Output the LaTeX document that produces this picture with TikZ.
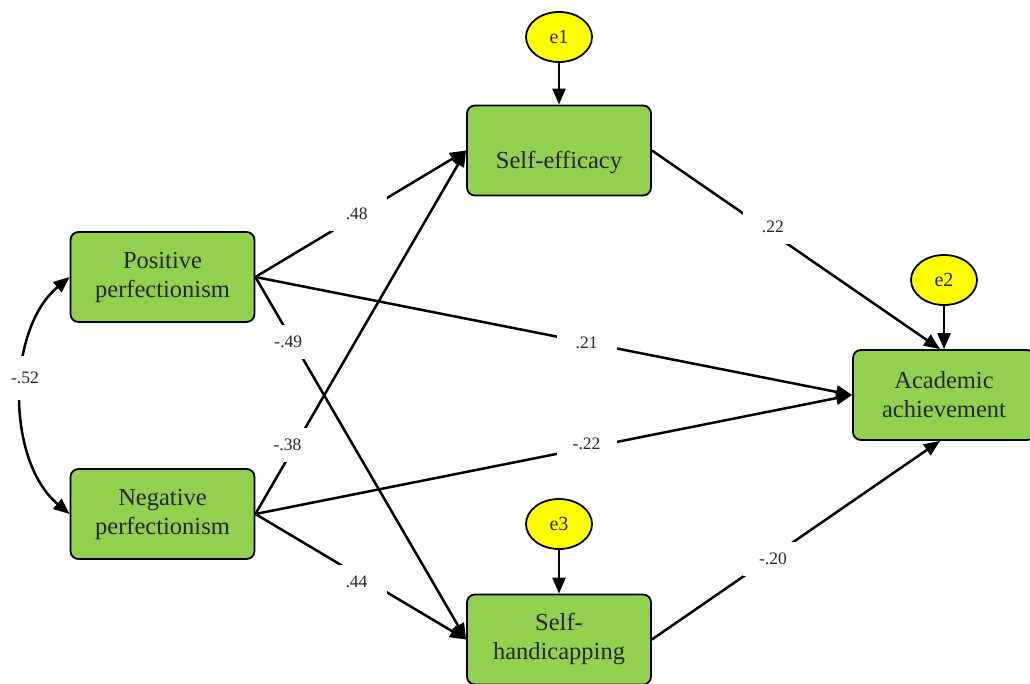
\documentclass[tikz,border=0pt]{standalone}
\usepackage{fontspec}
\setmainfont{Liberation Serif}
\usetikzlibrary{arrows.meta,shapes.geometric}
\definecolor{boxgreen}{HTML}{92D050}
\definecolor{eyellow}{HTML}{FFFF00}
\definecolor{txt}{HTML}{262626}
\begin{document}
\begin{tikzpicture}[x=1pt,y=-1pt,
  var/.style={draw=black, line width=1.8pt, fill=boxgreen, rounded corners=8pt,
    minimum width=184pt, minimum height=90pt, align=center, text=txt,
    font=\fontsize{24.5}{29}\selectfont, inner sep=0pt},
  err/.style={ellipse, draw=black, line width=1.8pt, fill=eyellow, text=txt,
    minimum width=66pt, minimum height=50pt, inner sep=0pt,
    font=\fontsize{20}{24}\selectfont},
  conn/.style={line width=2.5pt, -{Triangle[length=16pt,width=13pt]}},
  cov/.style={line width=2.5pt, {Triangle[length=16pt,width=13pt]}-{Triangle[length=16pt,width=13pt]}},
  lab/.style={fill=white, text=txt, font=\fontsize{17.5}{20}\selectfont,
    minimum width=60pt, minimum height=34pt, inner sep=0pt}
]
\useasboundingbox (0,0) rectangle (1030,684);
\clip (0,0) rectangle (1030,684);
\fill[white] (0,0) rectangle (1030,684);

% variables
\node[var] (pos) at (162.5,277) {Positive\\perfectionism};
\node[var] (neg) at (162.5,514) {Negative\\perfectionism};
\node[var] (se)  at (559,150.5) {\raisebox{-18.5pt}[0pt][0pt]{Self-efficacy}};
\node[var] (sh)  at (559,639.5) {Self-\\handicapping};
\node[var, minimum width=182pt] (aa) at (944,395) {Academic\\achievement};

% errors
\node[err] (e1) at (559,37) {e1};
\node[err] (e2) at (944,280) {e2};
\node[err] (e3) at (559,524) {e3};

% error arrows
\draw[conn] (e1) -- (se.north);
\draw[conn] (e2) -- (aa.north);
\draw[conn] (e3) -- (sh.north);

% paths
\draw[conn] (pos.east) -- node[lab, pos=0.5, xshift=-4pt] {.48} (se.west);
\draw[conn] (neg.east) -- node[lab, pos=0.19, xshift=-8pt] {-.38} (se.west);
\draw[conn] (pos.east) -- node[lab, pos=0.18, xshift=-5pt] {-.49} (sh.west);
\draw[conn] (neg.east) -- node[lab, pos=0.48, yshift=-8pt] {.44} (sh.west);
\draw[conn] (pos.east) -- node[lab, pos=0.555] {.21} (aa.west);
\draw[conn] (neg.east) -- node[lab, pos=0.555, yshift=4pt] {-.22} (aa.west);
\draw[conn] (se.east) -- node[lab, pos=0.42, yshift=7pt] {.22} ([xshift=-4pt]aa.north);
\draw[conn] (sh.east) -- node[lab, pos=0.42, yshift=-3pt] {-.20} ([xshift=-4pt]aa.south);

% covariance
\draw[cov] (pos.west) .. controls (6,330) and (6,461) .. node[lab, minimum width=40pt, minimum height=44pt, pos=0.5, xshift=3pt, yshift=18pt] {-.52} (neg.west);
\end{tikzpicture}
\end{document}
